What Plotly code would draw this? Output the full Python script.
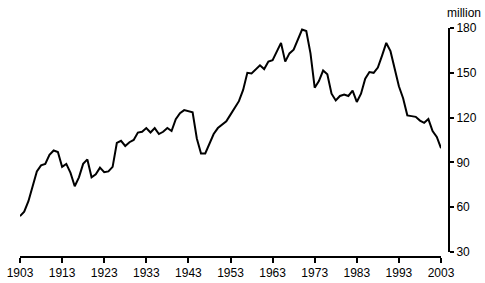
import plotly.graph_objects as go

years = list(range(1903, 2004))
values = [
    54, 57, 64, 74, 84, 88, 89, 95, 98, 97,            # 1903-1912
    87, 89, 83, 74, 80, 89, 92, 80, 82, 86.5,          # 1913-1922
    83.5, 84, 87, 103, 104.5, 101, 103.5, 105, 110, 110.5,  # 1923-1932
    113, 110, 113, 109, 110.5, 113, 111, 119, 123, 125,     # 1933-1942
    124.5, 123.5, 106, 96, 96, 103, 109, 113, 115.5, 117.5,  # 1943-1952
    122, 127, 131, 138.5, 150, 149.5, 152.5, 155, 152.5, 157.5,  # 1953-1962
    158.5, 164, 170, 157.5, 163, 165.5, 172.5, 179, 178, 163,    # 1963-1972
    140, 144.5, 151.5, 149, 136, 131.5, 134.5, 135.5, 134.5, 138,  # 1973-1982
    130.5, 136, 146, 150.5, 150, 153.5, 161.5, 170, 164.5, 152,    # 1983-1992
    141, 133, 121.5, 121, 120.5, 118, 116.5, 119, 111, 107,        # 1993-2002
    99.5,                                                          # 2003
]
x_ticks = list(range(1903, 2004, 10))
y_ticks = [30, 60, 90, 120, 150, 180]
unit_label = "million"

W, H = 485, 283
left, right_axis_px, x_end_px = 20, 449, 441
top, y_bottom_px, x_axis_px = 28, 252, 257

plot_w = right_axis_px - left
plot_h = x_axis_px - top

fig = go.Figure()
fig.add_trace(go.Scatter(
    x=years, y=values, mode="lines",
    line=dict(color="black", width=2),
    hoverinfo="skip", showlegend=False,
))

font = dict(family="Liberation Sans, Arial, sans-serif", size=12, color="black")

fig.update_layout(
    width=W, height=H,
    margin=dict(l=left, r=W - right_axis_px, t=top, b=H - x_axis_px, pad=0, autoexpand=False),
    paper_bgcolor="white", plot_bgcolor="white",
    font=font,
    xaxis=dict(
        domain=[0, (x_end_px - left) / plot_w],
        range=[1903, 2003],
        tickvals=x_ticks, ticktext=[str(t) for t in x_ticks],
        showgrid=False, zeroline=False,
        showline=True, linecolor="black", linewidth=2,
        ticks="outside", ticklen=5, tickwidth=2, tickcolor="black",
        anchor="free", position=0, automargin=False,
    ),
    yaxis=dict(
        domain=[(x_axis_px - y_bottom_px) / plot_h, 1],
        range=[30, 180],
        tickvals=y_ticks,
        side="right",
        anchor="free", position=1, automargin=False,
        showgrid=False, zeroline=False,
        showline=True, linecolor="black", linewidth=2,
        ticks="outside", ticklen=4, tickwidth=2, tickcolor="black",
    ),
    annotations=[dict(
        text=unit_label, xref="paper", yref="paper", x=1, y=1,
        xanchor="left", yanchor="bottom", xshift=-4, yshift=6,
        showarrow=False, font=font,
    )],
)

fig.write_html("out.html")
